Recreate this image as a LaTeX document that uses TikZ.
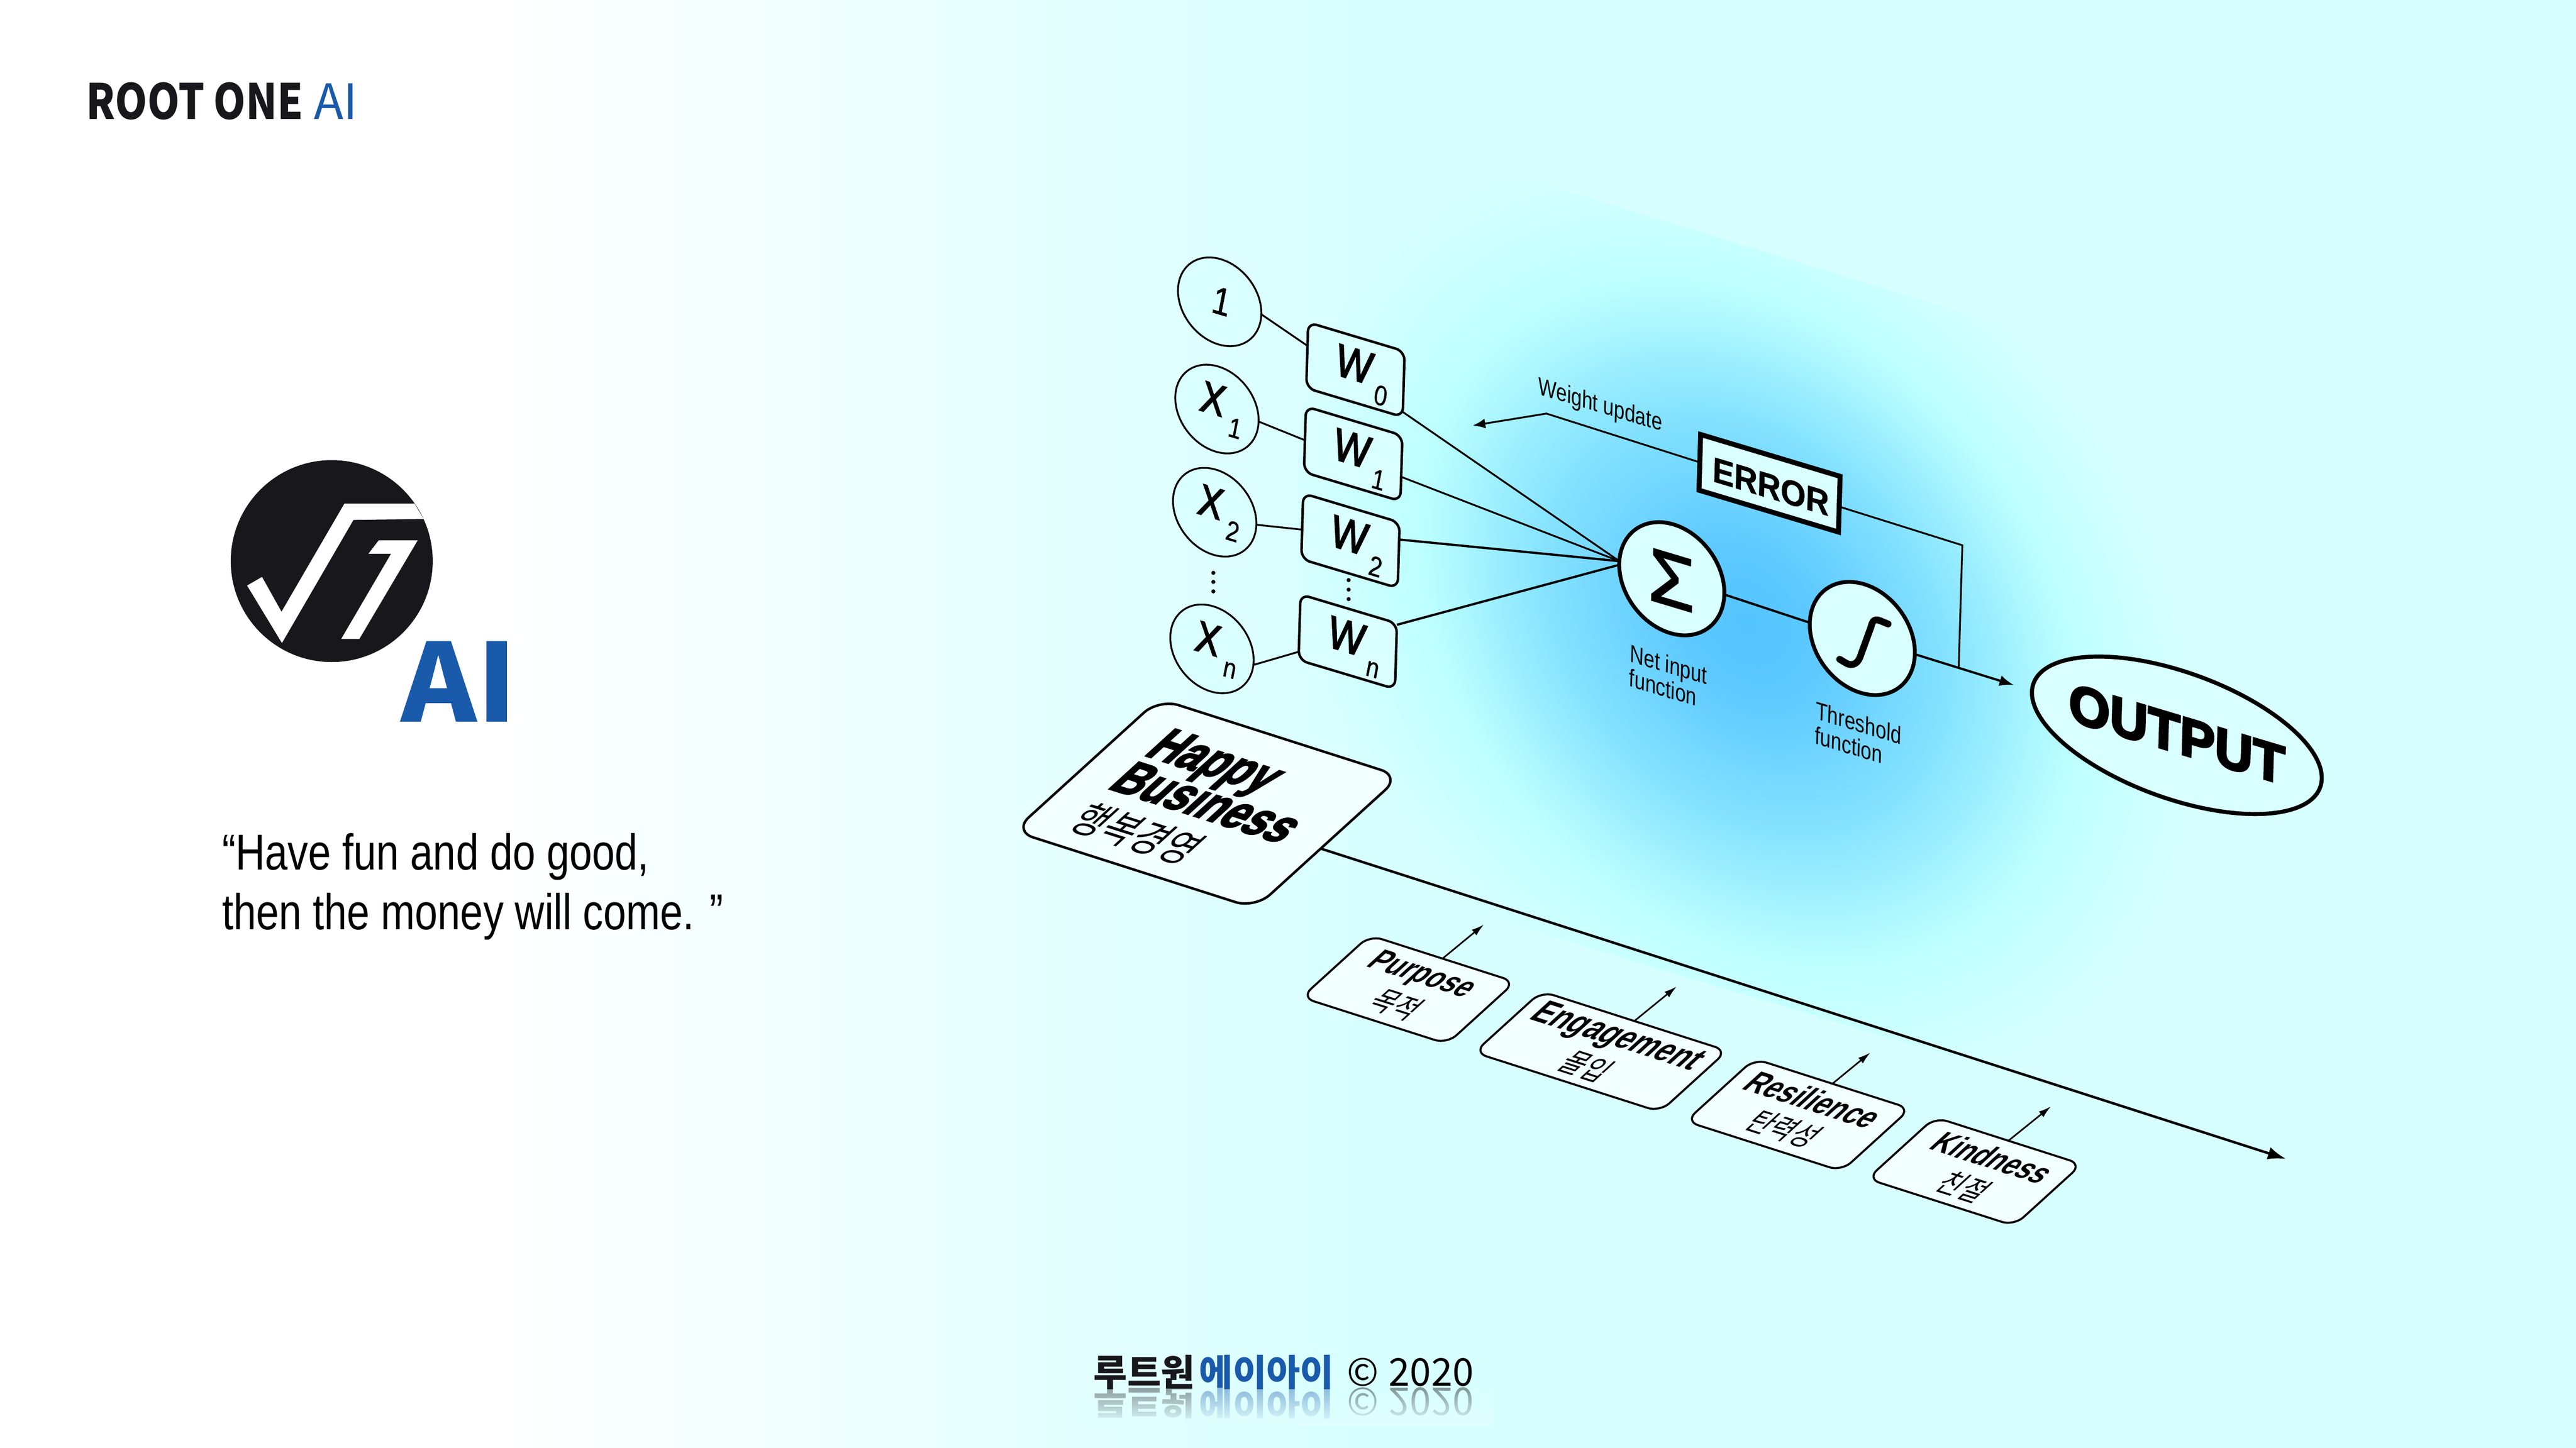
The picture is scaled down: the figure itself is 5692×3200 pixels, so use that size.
\documentclass[tikz,border=0pt]{standalone}
\usepackage{fontspec}
\usetikzlibrary{arrows.meta,shapes.geometric,fadings}
\setmainfont{Liberation Sans}
\newfontfamily\labf{Liberation Sans}[FakeStretch=0.78]
\newfontfamily\quotef{Liberation Sans}[FakeStretch=0.81]
\newfontfamily\itf{Liberation Sans}[FakeStretch=0.82,FakeBold=2.5]
\newfontfamily\subf{Liberation Sans}[FakeStretch=0.8,FakeBold=0.6]
\newfontfamily\errf{Liberation Sans}[FakeStretch=0.92,BoldFeatures={FakeBold=1}]
\newfontfamily\outf{Liberation Sans}[FakeStretch=0.97,BoldFeatures={FakeBold=4}]
\newfontfamily\heavy{Liberation Sans}[BoldFeatures={FakeBold=3.5}]
\newfontfamily\sigf{Liberation Sans}[FakeBold=2]
\newfontfamily\krf{Noto Sans CJK KR}
\newfontfamily\titlef{Noto Sans CJK KR}[FakeStretch=0.84]
\newfontfamily\titleb{Noto Sans CJK KR}
\newfontfamily\bigai{Noto Sans CJK KR}[FakeStretch=1.06]
\newfontfamily\ftf{Noto Sans CJK KR}
\definecolor{logoink}{HTML}{18181C}
\definecolor{brand}{HTML}{1A5AAB}
\definecolor{bgc}{HTML}{D8FFFF}
\definecolor{gA}{HTML}{55C5FF}
\definecolor{gB}{HTML}{5CC8FF}
\definecolor{gC}{HTML}{86E3FF}
\definecolor{gD}{HTML}{BDFFFF}
\definecolor{nodefill}{HTML}{DAFFFF}
\definecolor{lowfill}{HTML}{F2FFFF}
\definecolor{ftbg}{HTML}{E0FFFF}
\pgfdeclarehorizontalshading{bgshade}{100bp}{color(0bp)=(white); color(34.7bp)=(white); color(43.4bp)=(bgc!55!white); color(51.4bp)=(bgc); color(100bp)=(bgc)}
\pgfdeclareradialshading{glow}{\pgfpoint{0bp}{0bp}}{color(0bp)=(gA); color(3.75bp)=(gB); color(11.25bp)=(gC); color(18bp)=(gD); color(25bp)=(bgc); color(50bp)=(bgc)}
\tikzfading[name=reffade,top color=transparent!100,bottom color=transparent!0]
\newcommand{\uvc}[3]{\makebox[0pt][l]{\hspace*{#1cm}\makebox[0pt][c]{\raisebox{#2cm}{#3}}}}
\newcommand{\uvl}[3]{\makebox[0pt][l]{\hspace*{#1cm}\raisebox{#2cm}{#3}}}
\newcommand{\fsz}[1]{\fontsize{#1pt}{#1pt}\selectfont}
\newcommand{\wlab}[1]{\uvc{-.04}{-.24}{\itf\itshape\fsz{29}W}\uvc{.56}{-.62}{\subf\itshape\fsz{18}#1}}
\newcommand{\xlab}[1]{\uvc{-.10}{-.14}{\itf\itshape\fsz{28}X}\uvc{.40}{-.52}{\subf\itshape\fsz{18}#1}}
\tikzset{
  x=0.01cm,y=-0.01cm,
  uv/.style={inner sep=0pt,outer sep=0pt,text height=0pt,text depth=0pt},
  topskew/.style={cm={1,-0.30,0.03,1,(0,0)}},
  lowskew/.style={cm={1,-0.32,1.1,1,(0,0)}},
  inball/.style={uv,topskew,ellipse,draw,fill=nodefill,line width=.04cm,minimum width=1.84cm,minimum height=1.88cm},
  wbox/.style={uv,topskew,rectangle,draw,fill=nodefill,rounded corners=.2cm,line width=.055cm,minimum width=2.13cm,minimum height=1.45cm},
  funcball/.style={uv,topskew,ellipse,draw,fill=nodefill,line width=.085cm,minimum width=2.32cm,minimum height=2.40cm},
  labtext/.style={topskew,inner sep=0pt,align=left,font=\labf\fsz{15.5}},
  lowbox/.style={uv,lowskew,rectangle,draw,fill=lowfill,rounded corners=.28cm,line width=.045cm},
  thinl/.style={line width=.04cm},
  midl/.style={line width=.05cm},
  smallarrow/.style={line width=.035cm,-{Latex[length=.28cm,width=.16cm]}},
}
\begin{document}
\begin{tikzpicture}
\useasboundingbox (0,0) rectangle (5692,3200);
\shade[shading=bgshade] (0,0) rectangle (5692,3200);
\begin{scope}
  \clip (1000,-331) -- (6000,1199) -- (6000,2846) -- (1000,1336) -- cycle;
  \begin{scope}[transform canvas={cm={1,-0.30,0.03,1,(3860,1375)}}]
    \shade[shading=glow] (0,0) circle[radius=10cm];
  \end{scope}
\end{scope}

% logo
\fill[logoink] (733,1240) circle[radius=2.23cm];
\fill[white] (546,1294) -- (579,1275) -- (622,1352) -- (761,1113) -- (916,1113) -- (936,1147) -- (781,1149) -- (623,1421) -- cycle;
\fill[white] (837,1194) -- (923,1194) -- (794,1412) -- (754,1412) -- (864,1224) -- (814,1224) -- cycle;
\node[anchor=base west,inner sep=0pt,text=brand,font=\bigai\bfseries\fsz{68}] (bigai) at (886,1596) {AI};
\node[anchor=base west,inner sep=0pt] (title) at (190,264) {{\titlef\bfseries\fsz{30.6}\color{logoink}ROOT ONE}};
\node[anchor=base west,inner sep=0pt] (titleai) at (693,264) {{\titleb\fsz{30.6}\color{brand}AI}};
\node[anchor=base west,inner sep=0pt] (q1) at (490,1922) {\quotef\fsz{31.7}“Have fun and do good,};
\node[anchor=base west,inner sep=0pt] (q2) at (490,2054) {\quotef\fsz{31.7}then the money will come. ”};

% input balls
\node[inball] (c1) at (2695,667) {\uvc{.03}{-.28}{\subf\itshape\fsz{25}1}};
\node[inball] (x1) at (2689,904) {\xlab{1}};
\node[inball] (x2) at (2684,1132) {\xlab{2}};
\node[inball] (xn) at (2678,1434) {\xlab{n}};
% weights
\node[wbox] (w0) at (2995,817) {\wlab{0}};
\node[wbox] (w1) at (2990,1003) {\wlab{1}};
\node[wbox] (w2) at (2984,1195) {\wlab{2}};
\node[wbox] (wn) at (2978,1418) {\wlab{n}};
% dots
\fill (2681,1266) circle[radius=.045cm] (2681,1286) circle[radius=.045cm] (2681,1307) circle[radius=.045cm];
\fill (2980,1282) circle[radius=.045cm] (2980,1303) circle[radius=.045cm] (2980,1324) circle[radius=.045cm];
% functions
\node[funcball] (sg) at (3694,1279) {\uvc{0}{-.60}{\sigf\fsz{47}Σ}};
\node[funcball] (th) at (4115,1411) {};
\draw[line width=.15cm,line cap=round,line join=round] (4172,1379) -- (4155,1372) .. controls (4140,1366) and (4137,1374) .. (4134,1386) -- (4110,1452) .. controls (4104,1468) and (4092,1472) .. (4080,1466) -- (4065,1457);
\node[labtext] (netl) at (3686,1495) {Net input\\function};
\node[labtext] (thrl) at (4106,1625) {Threshold\\function};
\node[labtext] (wul) at (3536,898) {Weight update};
\node[uv,topskew,rectangle,draw,fill=nodefill,line width=.11cm,minimum width=3.08cm,minimum height=1.23cm] (err) at (3910,1068) {\uvc{.03}{-.33}{\errf\bfseries\fsz{22}ERROR}};
\node[uv,topskew,ellipse,draw,fill=nodefill,line width=.09cm,minimum width=6.4cm,minimum height=2.9cm] (out) at (4810,1625) {\uvc{0}{-.38}{\outf\bfseries\fsz{34}OUTPUT}};

% connectors, top
\draw[thinl] (c1.east) -- (w0.169.5);
\draw[thinl] (x1.east) -- (w1.181.5);
\draw[thinl] (x2.east) -- (w2.184.4);
\draw[thinl] (xn.-5) -- (wn.207.4);
\draw[thinl] (w0.-30.4) -- (sg.178);
\draw[thinl] (w1.-10.1) -- (sg.178);
\draw[midl] (w2.18) -- (sg.178);
\draw[midl] (wn.33.4) -- (sg.182);
\draw[midl] (sg.east) -- (th.west);
\coordinate (outtip) at (4450,1514);
\draw[midl,-{Latex[length=.32cm,width=.24cm]}] (th.east) -- (outtip);
\coordinate (fbc) at (4336,1205);
\coordinate (fbj) at (4328,1475);
\draw[thinl] (err.-2.6) -- (fbc) -- (fbj);
\coordinate (wc) at (3417,914);
\coordinate (wt) at (3254,940.5);
\draw[thinl,-{Latex[length=.28cm,width=.22cm]}] (err.west) -- (wc) -- (wt);

% lower part
\node[lowbox,minimum width=5.33cm,minimum height=2.92cm,line width=.055cm,rounded corners=.45cm] (hb) at (2667,1776) {\uvl{-1.92}{.46}{\heavy\bfseries\fsz{24.5}Happy}\uvl{-1.92}{-.27}{\heavy\bfseries\fsz{24.5}Business}\uvl{-1.90}{-1.12}{\krf\fsz{20}행복경영}};
\node[lowbox,minimum width=3.21cm,minimum height=1.37cm] (pu) at (3112,2187) {\uvc{-.04}{.16}{\bfseries\fsz{15.5}Purpose}\uvc{.07}{-.50}{\krf\fsz{14.5}목적}};
\node[lowbox,minimum width=4.10cm,minimum height=1.35cm] (en) at (3537,2324) {\uvc{.01}{.16}{\bfseries\fsz{17}Engagement}\uvc{.03}{-.51}{\krf\fsz{14.5}몰입}};
\node[lowbox,minimum width=3.44cm,minimum height=1.38cm] (re) at (3973,2464) {\uvc{-.02}{.13}{\bfseries\fsz{16}Resilience}\uvc{.02}{-.49}{\krf\fsz{14.5}탄력성}};
\node[lowbox,minimum width=3.24cm,minimum height=1.36cm] (ki) at (4363,2589) {\uvc{.05}{.13}{\bfseries\fsz{15.5}Kindness}\uvc{.10}{-.50}{\krf\fsz{14.5}친절}};
\coordinate (mtip) at (5051,2561);
\draw[line width=.055cm,-{Latex[length=.4cm,width=.28cm]}] (hb.-3.2) -- (mtip);
\coordinate (ptip) at (3279,2043);
\coordinate (etip) at (3705,2180);
\coordinate (rtip) at (4133,2326);
\coordinate (ktip) at (4532,2445);
\draw[smallarrow] (pu.north) -- (ptip);
\draw[smallarrow] (en.north) -- (etip);
\draw[smallarrow] (re.north) -- (rtip);
\draw[smallarrow] (ki.north) -- (ktip);

% footer with reflection
\newcommand{\footline}{{\ftf\bfseries\fsz{23}\color{logoink}루트원}\hspace{.1cm}{\ftf\bfseries\fsz{23}\color{brand}에이아이}\hspace{.29cm}{\ftf\fsz{24}©\hspace{.22cm}2020}}
\node[anchor=base west,inner sep=0pt,yscale=-1,opacity=.42] (ftr) at (2416,3067) {\footline};
\fill[ftbg,path fading=reffade] (2380,3066) rectangle (3300,3150);
\node[anchor=base west,inner sep=0pt] (ft) at (2416,3063) {\footline};
\end{tikzpicture}
\end{document}
